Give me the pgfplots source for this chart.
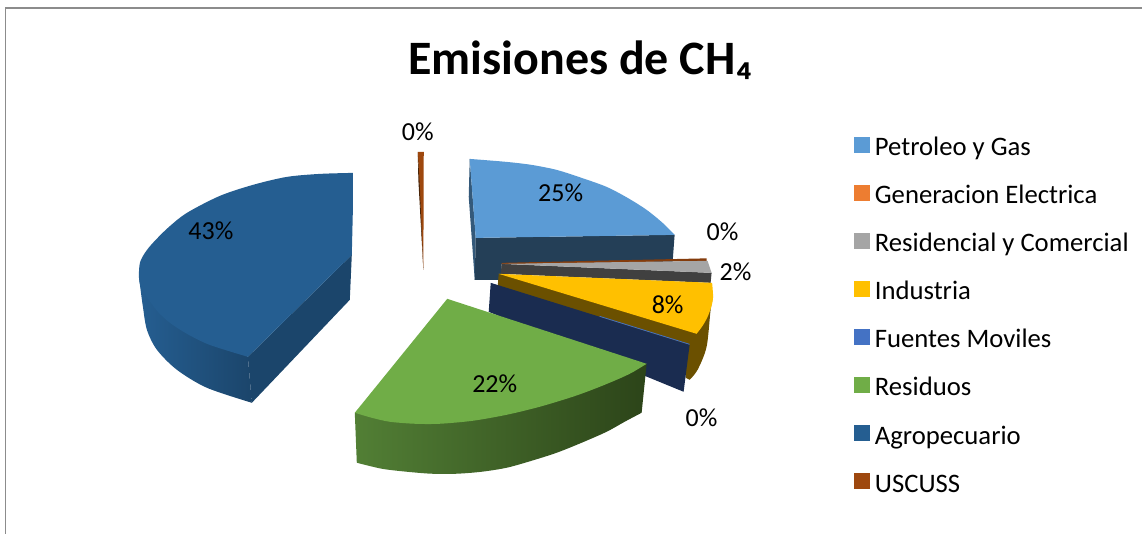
\documentclass[border=0pt]{standalone}
\usepackage{pgfplots}
\pgfplotsset{compat=1.18}
\usepackage{fontspec}
\setmainfont{Carlito}
\definecolor{cPet}{HTML}{5B9BD5}
\definecolor{cPetS}{HTML}{243F57}
\definecolor{cPetL}{HTML}{34597A}
\definecolor{cGen}{HTML}{ED7D31}
\definecolor{cGenD}{HTML}{843C0C}
\definecolor{cRes}{HTML}{A5A5A5}
\definecolor{cResS}{HTML}{404040}
\definecolor{cInd}{HTML}{FFC000}
\definecolor{cIndS}{HTML}{6B5000}
\definecolor{cFue}{HTML}{4472C4}
\definecolor{cFueS}{HTML}{1A2C50}
\definecolor{cRsd}{HTML}{70AD47}
\definecolor{cRsdL}{HTML}{527F35}
\definecolor{cRsdM}{HTML}{375523}
\definecolor{cRsdD}{HTML}{2C4419}
\definecolor{cAgr}{HTML}{255E91}
\definecolor{cAgrS}{HTML}{1B456B}
\definecolor{cUsc}{HTML}{9E480E}
\definecolor{cUscD}{HTML}{4A2407}
\newcommand{\lab}{\fontsize{26}{26}\selectfont}
\begin{document}
\begin{tikzpicture}
\begin{axis}[
  width=1143pt,height=534pt,scale only axis,
  xmin=0,xmax=1143,ymin=0,ymax=534,y dir=reverse,
  axis lines=none,clip=false,
  legend cell align=left,
  legend style={at={(axis cs:854,137)},anchor=north west,draw=none,fill=none,
    inner sep=0pt,outer sep=0pt,row sep=23.4pt,font=\fontsize{26.7}{26.7}\selectfont,
    nodes={inner sep=0pt,text height=17pt,text depth=6pt},
    /tikz/every odd column/.style={column sep=6pt}},
]
% legend swatches
\addlegendimage{legend image code/.code={\fill[cPet] (0pt,-2pt) rectangle (15pt,13pt);}}
\addlegendentry{Petroleo y Gas}
\addlegendimage{legend image code/.code={\fill[cGen] (0pt,-2pt) rectangle (15pt,13pt);}}
\addlegendentry{Generacion Electrica}
\addlegendimage{legend image code/.code={\fill[cRes] (0pt,-2pt) rectangle (15pt,13pt);}}
\addlegendentry{Residencial y Comercial}
\addlegendimage{legend image code/.code={\fill[cInd] (0pt,-2pt) rectangle (15pt,13pt);}}
\addlegendentry{Industria}
\addlegendimage{legend image code/.code={\fill[cFue] (0pt,-2pt) rectangle (15pt,13pt);}}
\addlegendentry{Fuentes Moviles}
\addlegendimage{legend image code/.code={\fill[cRsd] (0pt,-2pt) rectangle (15pt,13pt);}}
\addlegendentry{Residuos}
\addlegendimage{legend image code/.code={\fill[cAgr] (0pt,-2pt) rectangle (15pt,13pt);}}
\addlegendentry{Agropecuario}
\addlegendimage{legend image code/.code={\fill[cUsc] (0pt,-2pt) rectangle (15pt,13pt);}}
\addlegendentry{USCUSS}
% page extent
\path (axis cs:0,0) rectangle (axis cs:1143,534);
% frame
\addplot[forget plot,draw=black!45,line width=1.3pt] coordinates {(5.5,534)(5.5,8)(1143,8)};
% Agropecuario
\addplot[forget plot,draw=none,fill=cAgrS] coordinates {(248,357)(352,255)(350,300)(252,403)} -- cycle;
\addplot[forget plot,smooth,draw=none,left color=cAgr,right color=cAgrS] coordinates {(139,277)(140,285)(143,307)(147,330)(157,350)(177,370)(207,388)(252,403)} -- (axis cs:248,357) -- cycle;
\addplot[forget plot,smooth,draw=none,fill=cAgr] coordinates {(353,173)(320,174)(287,177)(253,185)(220,196)(187,213)(168,228)(153,243)(145,253)(140,263)(139,277)(141,287)(147,297)(157,311)(170,323)(187,334)(207,344)(228,351)(248,357)} -- (axis cs:352,255) -- (axis cs:353,213) -- cycle;
% USCUSS
\addplot[forget plot,draw=none,fill=cUsc] coordinates {(418,152)(424,152)(423.6,270)} -- cycle;
\addplot[forget plot,draw=none,fill=cUscD] coordinates {(418,152)(418.6,180)(423.6,270)(420,185)} -- cycle;
% Petroleo y Gas
\addplot[forget plot,draw=none,fill=cPetL] coordinates {(470,159)(469,197)(475,280)(476,238)} -- cycle;
\addplot[forget plot,draw=none,fill=cPetS] coordinates {(476,238)(675,235)(673,262)(502,264)(502,280)(475,280)} -- cycle;
\addplot[forget plot,smooth,draw=none,fill=cPet] coordinates {(470,159)(507,162)(532,165)(557,170)(582,178)(607,187)(628,198)(647,210)(663,223)(675,235)} -- (axis cs:476,238) -- cycle;
% Generacion Electrica
\addplot[forget plot,draw=none,fill=cGenD] coordinates {(502,263)(707,258.5)(707,261)(502,264.5)} -- cycle;
% Residencial
\addplot[forget plot,draw=none,fill=cResS] coordinates {(502,264)(712,273)(711,283)(501,274)} -- cycle;
\addplot[forget plot,draw=none,fill=cRes] coordinates {(502,264)(708,261)(712,273)} -- cycle;
% Industria
\addplot[forget plot,smooth,draw=none,fill=cIndS] coordinates {(713.5,297)(711,310)(707,347)(698,370)(690,380)} -- (axis cs:686,378) -- (axis cs:686,350) -- (axis cs:498,287) -- (axis cs:499,274) -- cycle;
\addplot[forget plot,smooth,draw=none,fill=cInd] coordinates {(712.5,283)(713.5,297)(712,306)(708,317)(703,326)(697,334)} -- (axis cs:499,274) -- cycle;
% Fuentes Moviles
\addplot[forget plot,draw=none,fill=cFueS] coordinates {(491,283)(690,345)(684,392)(489,312)} -- cycle;
\addplot[forget plot,draw=cFue,line width=0.8pt] coordinates {(600,316.5)(690,344.5)};
% Residuos
\addplot[forget plot,smooth,draw=none,left color=cRsdL,middle color=cRsdM,right color=cRsdD] coordinates {(357,463)(382,469)(407,472)(432,474)(457,474)(482,472)(507,468)(532,461)(557,453)(582,443)(607,432)(625,422)(642,413)} -- (axis cs:647,364) -- (axis cs:355,413) -- cycle;
\addplot[forget plot,smooth,draw=none,fill=cRsd] coordinates {(647,364)(632,373)(617,380)(595,389)(573,397)(540,407)(507,415)(473,421)(440,424)(415,424)(390,422)(372,418)(355,413)} -- (axis cs:447.5,299) -- cycle;
% labels
\node[font=\lab] at (axis cs:561,193) {25\%};
\node[font=\lab] at (axis cs:211,231) {43\%};
\node[font=\lab] at (axis cs:495,384) {22\%};
\node[font=\lab] at (axis cs:668,305) {8\%};
\node[font=\lab] at (axis cs:723,232) {0\%};
\node[font=\lab] at (axis cs:736,272) {2\%};
\node[font=\lab] at (axis cs:702,418) {0\%};
\node[font=\lab] at (axis cs:418,132) {0\%};
\node[font=\fontsize{48}{48}\selectfont\bfseries] at (axis cs:581,60) {Emisiones de CH₄};
\end{axis}
\end{tikzpicture}
\end{document}
